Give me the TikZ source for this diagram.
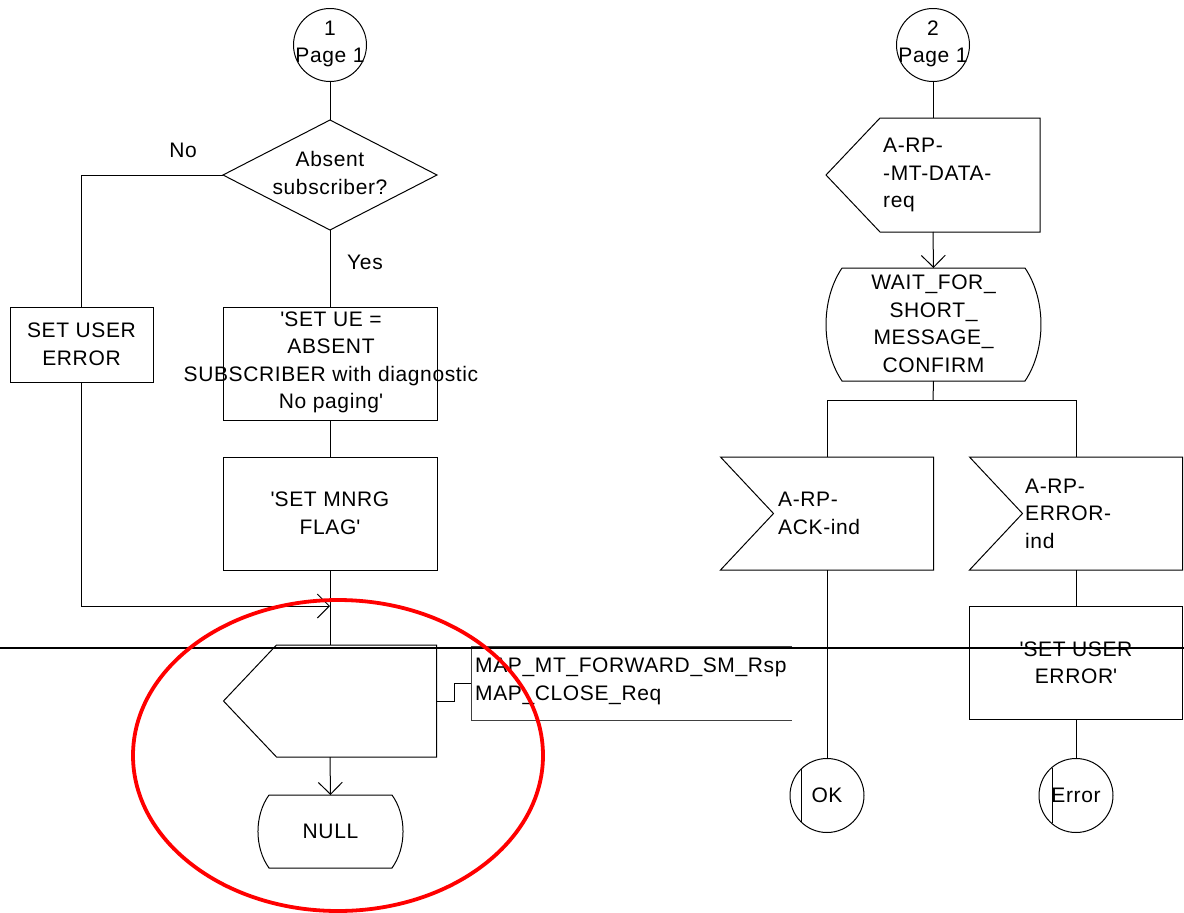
\documentclass[tikz,border=0pt]{standalone}
\usepackage{fontspec}
\setmainfont{Liberation Sans}[LetterSpace=3]
\usetikzlibrary{arrows.meta,calc}
\newcommand{\sq}{\textquotesingle}
\begin{document}
\begin{tikzpicture}[x=1pt,y=-1pt,
  font=\fontsize{21}{27.5}\selectfont,
  line/.style={line width=1pt},
  arr/.style={line width=1pt,-{Straight Barb[length=12pt,width=24pt,line width=1pt]}},
  taskbox/.style={draw,line width=1pt,rectangle,inner sep=0pt,align=center},
  frame/.style={rectangle,inner sep=0pt,outer sep=0pt},
  conn/.style={draw,line width=1pt,circle,inner sep=0pt,minimum size=73pt},
  txt/.style={inner sep=0pt,align=center},
  ltxt/.style={inner sep=0pt,align=left,anchor=west}]
\useasboundingbox (0,0) rectangle (1184,913);

% ---------------- left branch ----------------
\node[conn] (c1) at (330,45) {};
\node[txt] (c1t) at (330,44) {1\\Page 1};

\node[frame,minimum width=214pt,minimum height=110pt] (d) at (330,175) {};
\draw[line] (d.north) -- (d.east) -- (d.south) -- (d.west) -- cycle;
\node[txt] (dt) at (330,173) {Absent\\subscriber?};
\node[txt] (no) at (183,150) {No};
\node[txt] (yes) at (365,262) {Yes};

\node[taskbox,minimum width=143pt,minimum height=75pt] (userr) at (81.5,344.5) {SET USER\\ERROR};
\node[taskbox,minimum width=214pt,minimum height=113pt] (ue) at (330,363.5) {};
\node[txt] (uet) at (331,362.5) {\sq SET UE =\\ABSENT\\SUBSCRIBER with diagnostic\\No paging\sq};
\node[taskbox,minimum width=214pt,minimum height=113pt] (mnrg) at (330,513.5) {\sq SET MNRG\\FLAG\sq};

\coordinate (join) at (330,606);

% output signal
\node[frame,minimum width=213pt,minimum height=112pt] (out) at (330,701) {};
\draw[line] ($(out.north west)+(53,0)$) -- (out.north east) -- (out.south east)
  -- ($(out.south west)+(53,0)$) -- (out.west) -- cycle;

% comment attached to the output
\node[frame,minimum width=321pt,minimum height=74pt] (ann) at (631.5,683) {};
\node[ltxt] (annt) at (475,681.5) {MAP\_MT\_FORWARD\_SM\_Rsp\\MAP\_CLOSE\_Req};
\draw[line,black!75] (ann.north east) -- (ann.north west) -- (ann.south west) -- (ann.south east);
\coordinate (k1) at (454,701);
\coordinate (k2) at (454,683);
\draw[line] (out.east) -- (k1) -- (k2) -- (ann.west);

% state NULL
\node[frame,minimum width=145pt,minimum height=73pt] (null) at (330.5,831.5) {NULL};
\draw[line] ($(null.north west)+(11,0)$) -- ($(null.north east)+(-11,0)$)
  .. controls ($(null.north east)+(3.7,20.4)$) and ($(null.south east)+(3.7,-20.4)$) .. ($(null.south east)+(-11,0)$)
  -- ($(null.south west)+(11,0)$)
  .. controls ($(null.south west)+(-3.7,-20.4)$) and ($(null.north west)+(-3.7,20.4)$) .. ($(null.north west)+(11,0)$);

% left connectors
\draw[line] (c1) -- (d.north);
\draw[line] (d.west) -| (userr.north);
\draw[line] (d.south) -- (ue.north);
\draw[line] (ue.south) -- (mnrg.north);
\draw[line] (mnrg.south) -- (out.north);
\draw[arr] (userr.south) |- (join);
\draw[arr] (out.south) -- (null.north);

% ---------------- right branch ----------------
\node[conn] (c2) at (933,45) {};
\node[txt] (c2t) at (933,44) {2\\Page 1};

\node[frame,minimum width=214pt,minimum height=114pt] (req) at (933,175) {};
\draw[line] ($(req.north west)+(54,0)$) -- (req.north east) -- (req.south east)
  -- ($(req.south west)+(54,0)$) -- (req.west) -- cycle;
\node[ltxt] (reqt) at (883,175) {A-RP-\\-MT-DATA-\\req};

% state WAIT_FOR_SHORT_MESSAGE_CONFIRM
\node[frame,minimum width=215pt,minimum height=113pt] (wait) at (933.5,324.5) {};
\draw[line] ($(wait.north west)+(16,0)$) -- ($(wait.north east)+(-16,0)$)
  .. controls ($(wait.north east)+(5.3,31.6)$) and ($(wait.south east)+(5.3,-31.6)$) .. ($(wait.south east)+(-16,0)$)
  -- ($(wait.south west)+(16,0)$)
  .. controls ($(wait.south west)+(-5.3,-31.6)$) and ($(wait.north west)+(-5.3,31.6)$) .. ($(wait.north west)+(16,0)$);
\node[txt] (waitt) at (933.5,324) {WAIT\_FOR\_\\SHORT\_\\MESSAGE\_\\CONFIRM};

\coordinate (brL) at (827,400);
\coordinate (brM) at (933,400);
\coordinate (brR) at (1076,400);

% input signals
\node[frame,minimum width=213pt,minimum height=113pt] (ack) at (827,513.5) {};
\draw[line] (ack.north west) -- (ack.north east) -- (ack.south east)
  -- (ack.south west) -- ($(ack.west)+(53,0)$) -- cycle;
\node[ltxt] (ackt) at (778,513.5) {A-RP-\\ACK-ind};

\node[frame,minimum width=213pt,minimum height=113pt] (err) at (1076,513.5) {};
\draw[line] (err.north west) -- (err.north east) -- (err.south east)
  -- (err.south west) -- ($(err.west)+(53,0)$) -- cycle;
\node[ltxt] (errt) at (1025,513.5) {A-RP-\\ERROR-\\ind};

\node[taskbox,minimum width=213pt,minimum height=113pt] (seterr) at (1076,662.5) {};
\node[txt] (seterrt) at (1076,663) {\sq SET USER\\ERROR\sq};

% terminating connectors
\node[conn,minimum size=74pt] (ok) at (827,795.5) {OK};
\draw[line] ($(ok.center)+(-26,-26.3)$) -- ($(ok.center)+(-26,26.3)$);
\node[conn,minimum size=74pt] (errc) at (1076,795.5) {Error};
\draw[line] ($(errc.center)+(-24,-27.8)$) -- ($(errc.center)+(-24,27.8)$);

% right connectors
\draw[line] (c2) -- (req.north);
\draw[arr] (req.south) -- (wait.north);
\draw[line] (wait.south) -- (brM);
\draw[line] (brL) -- (brR);
\draw[line] (brL) -- (ack.north);
\draw[line] (brR) -- (err.north);
\draw[line] (ack.south) -- (ok);
\draw[line] (err.south) -- (seterr.north);
\draw[line] (seterr.south) -- (errc);

% horizontal rule across the page
\coordinate (hl) at (0,648);
\coordinate (hr) at (1184,648);
\draw[line width=1.8pt] (hl) -- (hr);

% red marking
\draw[red,line width=3.8pt] (338,755.5) ellipse [x radius=205, y radius=155.5];
\end{tikzpicture}
\end{document}
